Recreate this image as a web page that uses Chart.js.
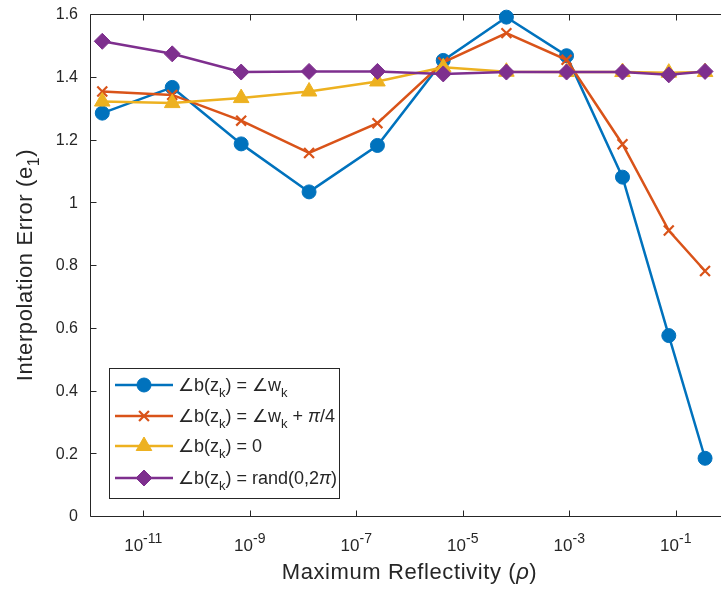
<!DOCTYPE html>
<html>
<head>
<meta charset="utf-8">
<script src="https://cdn.jsdelivr.net/npm/chart.js@4.4.1/dist/chart.umd.min.js"></script>
<style>
  html, body { margin: 0; padding: 0; background: #ffffff; overflow: hidden; }
  #wrap { position: relative; width: 721px; height: 592px; overflow: hidden; }
  canvas { display: block; }
</style>
</head>
<body>
<div id="wrap"><canvas id="c" width="745" height="592"></canvas></div>
<script>
// Maximum reflectivity values (x) and interpolation error per phase choice (y)
const rho = [1.7e-12, 3.5e-11, 6.9e-10, 1.3e-8, 2.5e-7, 4.3e-6, 6.6e-5, 8.9e-4, 1.0e-2, 7.4e-2, 0.355];
const errMatched = [1.284, 1.366, 1.186, 1.033, 1.181, 1.452, 1.590, 1.467, 1.080, 0.575, 0.184];
const errShifted = [1.353, 1.342, 1.260, 1.157, 1.252, 1.446, 1.539, 1.454, 1.185, 0.910, 0.781];
const errZero    = [1.321, 1.316, 1.332, 1.353, 1.385, 1.430, 1.416, 1.415, 1.415, 1.413, 1.415];
const errRandom  = [1.513, 1.473, 1.415, 1.417, 1.417, 1.409, 1.415, 1.415, 1.415, 1.406, 1.417];

const seriesLabels = [
  '∠b(z_{k}) = ∠w_{k}',
  '∠b(z_{k}) = ∠w_{k} + π/4',
  '∠b(z_{k}) = 0',
  '∠b(z_{k}) = rand(0,2π)'
];
const yTickValues = [0, 0.2, 0.4, 0.6, 0.8, 1, 1.2, 1.4, 1.6];
const yTickLabels = ['0', '0.2', '0.4', '0.6', '0.8', '1', '1.2', '1.4', '1.6'];
const xTickExponents = [-11, -9, -7, -5, -3, -1];
const xTitle = 'Maximum Reflectivity (ρ)';
const yTitle = 'Interpolation Error (e_{1})';

const FONT = '"Liberation Sans", Arial, Helvetica, sans-serif';
const INK = '#262626';

// Split "a_{b}c^{d}" into runs with a level: 0 normal, -1 subscript, 1 superscript
function parseRich(s) {
  const out = [];
  let i = 0, buf = '';
  while (i < s.length) {
    const c = s[i];
    if ((c === '_' || c === '^') && s[i + 1] === '{') {
      if (buf) { out.push({ t: buf, k: 0 }); buf = ''; }
      const j = s.indexOf('}', i);
      out.push({ t: s.slice(i + 2, j), k: c === '_' ? -1 : 1 });
      i = j + 1;
    } else { buf += c; i++; }
  }
  if (buf) out.push({ t: buf, k: 0 });
  // Greek letters get their own italic runs
  const res = [];
  out.forEach(r => {
    let cur = '', it = false;
    for (const ch of r.t) {
      const g = /[πρ]/.test(ch);
      if (cur && g !== it) { res.push({ t: cur, k: r.k, it }); cur = ''; }
      it = g; cur += ch;
    }
    if (cur) res.push({ t: cur, k: r.k, it });
  });
  return res;
}

function runFont(r, size, small) {
  const s = r.k === 0 ? size : Math.round(size * small);
  return (r.it ? 'italic ' : '') + s + 'px ' + FONT;
}

function drawRich(ctx, str, x, y, size, align, opts) {
  const o = Object.assign({ small: 0.72, spacing: 0 }, opts || {});
  ctx.letterSpacing = o.spacing + 'px';
  const runs = parseRich(str);
  let w = 0;
  runs.forEach(r => { ctx.font = runFont(r, size, o.small); r.w = ctx.measureText(r.t).width; w += r.w; });
  let cx = align === 'center' ? x - w / 2 : align === 'right' ? x - w : x;
  ctx.textAlign = 'left';
  ctx.textBaseline = 'alphabetic';
  runs.forEach(r => {
    ctx.font = runFont(r, size, o.small);
    const dy = r.k === -1 ? size * 0.32 : r.k === 1 ? -size * 0.47 : 0;
    ctx.fillText(r.t, cx, y + dy);
    cx += r.w;
  });
  ctx.letterSpacing = '0px';
}

// Axes box, inward ticks and tick labels
const axesPlugin = {
  id: 'axesFrame',
  beforeDatasetsDraw(chart) {
    const { ctx, chartArea: a, scales: { x, y } } = chart;
    ctx.save();
    ctx.strokeStyle = INK;
    ctx.lineWidth = 1;
    const L = Math.round(a.left) + 0.5, R = Math.round(a.right) + 0.5;
    const T = Math.round(a.top) + 0.5, B = Math.round(a.bottom) + 0.5;
    ctx.beginPath();
    ctx.moveTo(L, T); ctx.lineTo(R, T); ctx.lineTo(R, B); ctx.lineTo(L, B); ctx.closePath();
    const tl = 6;
    yTickValues.forEach(v => {
      const py = Math.round(y.getPixelForValue(v)) + 0.5;
      ctx.moveTo(L, py); ctx.lineTo(L + tl, py);
      ctx.moveTo(R, py); ctx.lineTo(R - tl, py);
    });
    xTickExponents.forEach(e => {
      const px = Math.round(x.getPixelForValue(Math.pow(10, e))) + 0.5;
      ctx.moveTo(px, B); ctx.lineTo(px, B - tl);
      ctx.moveTo(px, T); ctx.lineTo(px, T + tl);
    });
    ctx.stroke();

    ctx.fillStyle = INK;
    ctx.font = '16px ' + FONT;
    ctx.textAlign = 'right';
    ctx.textBaseline = 'middle';
    yTickValues.forEach((v, i) => {
      ctx.fillText(yTickLabels[i], a.left - 12, y.getPixelForValue(v) + 1);
    });
    xTickExponents.forEach(e => {
      drawRich(ctx, '10^{' + e + '}', x.getPixelForValue(Math.pow(10, e)), a.bottom + 35, 17, 'center', { small: 0.8 });
    });

    // axis titles
    drawRich(ctx, xTitle, (a.left + a.right) / 2, a.bottom + 63, 22, 'center', { spacing: 0.6 });
    ctx.save();
    ctx.translate(32, (a.top + a.bottom) / 2);
    ctx.rotate(-Math.PI / 2);
    drawRich(ctx, yTitle, 0, 0, 22, 'center', { spacing: 0.6 });
    ctx.restore();
    ctx.restore();
  }
};

// Legend box in the lower-left corner of the axes
const legendPlugin = {
  id: 'boxLegend',
  afterDatasetsDraw(chart) {
    const { ctx } = chart;
    const bx = 109.5, by = 368.5, bw = 230, bh = 130;
    ctx.save();
    ctx.fillStyle = '#ffffff';
    ctx.fillRect(bx, by, bw, bh);
    ctx.strokeStyle = INK;
    ctx.lineWidth = 1;
    ctx.strokeRect(bx, by, bw, bh);
    const rows = [385, 416, 446, 478];
    chart.data.datasets.slice().sort((p, q) => p.idx - q.idx).forEach((ds, i) => {
      const ry = rows[i];
      ctx.strokeStyle = ds.borderColor;
      ctx.lineWidth = ds.borderWidth;
      ctx.beginPath();
      ctx.moveTo(115, ry); ctx.lineTo(173, ry);
      ctx.stroke();
      ctx.fillStyle = ds.pointBackgroundColor;
      ctx.strokeStyle = ds.pointBorderColor;
      ctx.lineWidth = ds.pointBorderWidth;
      Chart.helpers.drawPoint(ctx, { pointStyle: ds.pointStyle, radius: ds.pointRadius, borderWidth: ds.pointBorderWidth, rotation: 0 }, 144, ry);
      ctx.fillStyle = INK;
      drawRich(ctx, seriesLabels[i], 178, ry + 6, 18, 'left');
    });
    ctx.restore();
  }
};

function series(idx, data, color, style, radius, borderW, order) {
  return {
    idx,
    label: seriesLabels[idx],
    data: rho.map((r, i) => ({ x: r, y: data[i] })),
    borderColor: color,
    backgroundColor: color,
    borderWidth: 2.5,
    pointStyle: style,
    pointRadius: radius,
    pointBackgroundColor: color,
    pointBorderColor: color,
    pointBorderWidth: borderW,
    tension: 0,
    order,
    clip: false
  };
}

new Chart(document.getElementById('c'), {
  type: 'line',
  data: {
    datasets: [
      series(3, errRandom, '#7E2F8E', 'rectRot', 8, 1, 0),
      series(2, errZero, '#EDB120', 'triangle', 9, 1, 1),
      series(1, errShifted, '#D95319', 'crossRot', 7, 2.2, 2),
      series(0, errMatched, '#0072BD', 'circle', 7, 1, 3)
    ]
  },
  options: {
    responsive: false,
    animation: false,
    devicePixelRatio: 1,
    layout: { padding: { left: 90, top: 14, right: 16, bottom: 76 } },
    scales: {
      x: { type: 'logarithmic', min: 1e-12, max: 1, display: false },
      y: { type: 'linear', min: 0, max: 1.6, display: false }
    },
    plugins: { legend: { display: false }, tooltip: { enabled: false } },
    events: []
  },
  plugins: [axesPlugin, legendPlugin]
});
</script>
</body>
</html>
